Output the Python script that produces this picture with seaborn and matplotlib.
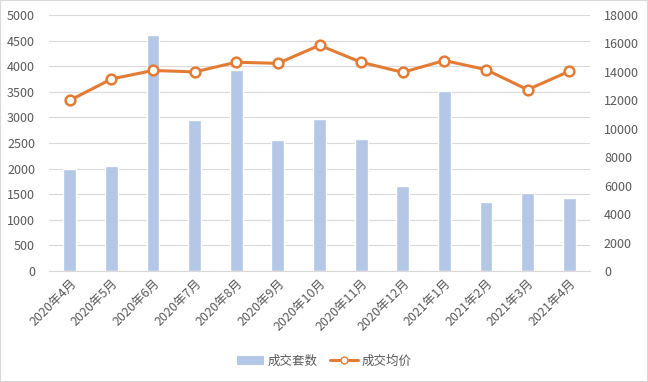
import pandas as pd
import matplotlib
matplotlib.use("Agg")
import matplotlib.pyplot as plt
import seaborn as sns
from matplotlib.lines import Line2D
from matplotlib.patches import Patch

# datos
meses = ['2020年4月', '2020年5月', '2020年6月', '2020年7月', '2020年8月', '2020年9月',
         '2020年10月', '2020年11月', '2020年12月', '2021年1月', '2021年2月', '2021年3月', '2021年4月']
taoshu = [2000, 2050, 4610, 2950, 3930, 2560, 2970, 2580, 1660, 3515, 1350, 1520, 1430]
junjia = [12000, 13500, 14100, 14000, 14680, 14600, 15870, 14680, 13970, 14800, 14160, 12750, 14040]

df = pd.DataFrame({'mes': meses, 'taoshu': taoshu, 'junjia': junjia})

sns.set_style('white')
plt.rcParams['font.family'] = ['Noto Sans CJK SC', 'DejaVu Sans']

azul = '#B4C7E7'
naranja = '#E47B35'
gris = '#595959'

fig = plt.figure(figsize=(6.48, 3.82), dpi=100)
ax = fig.add_axes([49/648, 1 - 271/382, 541/648, 256/382])

sns.barplot(data=df, x='mes', y='taoshu', color=azul, width=0.31,
            saturation=1, ax=ax, zorder=2)
ax.set_ylim(0, 5000)
ax.set_yticks(range(0, 5001, 500))
ax.set_xlim(-0.5, 12.5)
ax.grid(axis='y', color='#D9D9D9', linewidth=0.8, zorder=0)
ax.set_axisbelow(True)
ax.set_xlabel('')
ax.set_ylabel('')

ax2 = ax.twinx()
sns.lineplot(x=range(len(meses)), y=junjia, ax=ax2, color=naranja, linewidth=2.2,
             marker='o', markersize=7, markerfacecolor='white',
             markeredgecolor=naranja, markeredgewidth=1.8, zorder=3)
ax2.set_ylim(0, 18000)
ax2.set_yticks(range(0, 18001, 2000))
ax2.set_xlim(-0.5, 12.5)

for a in (ax, ax2):
    for s in a.spines.values():
        s.set_visible(False)
    a.tick_params(axis='both', length=0, labelsize=9, colors=gris, pad=4)

ax.spines['bottom'].set_visible(True)
ax.spines['bottom'].set_color('#D9D9D9')
ax.tick_params(axis='y', pad=10)
ax2.tick_params(axis='y', pad=10)
ax.set_xticks(range(len(meses)))
ax.set_xticklabels(meses, rotation=45, ha='right', rotation_mode='anchor')

handles = [Patch(facecolor=azul, edgecolor='none'),
           Line2D([0], [0], color=naranja, linewidth=2.2, marker='o', markersize=5,
                  markerfacecolor='white', markeredgecolor=naranja)]
fig.legend(handles, ['成交套数', '成交均价'], loc='center', bbox_to_anchor=(0.5, 1 - 361/382),
           ncol=2, frameon=False, fontsize=9, labelcolor=gris, handlelength=2.2,
           columnspacing=1.0, handletextpad=0.3)

fig.patches.append(plt.Rectangle((0, 0), 1, 1, transform=fig.transFigure, fill=False,
                                 edgecolor='#D9D9D9', linewidth=1.5))

fig.savefig('out.png', dpi=100)
